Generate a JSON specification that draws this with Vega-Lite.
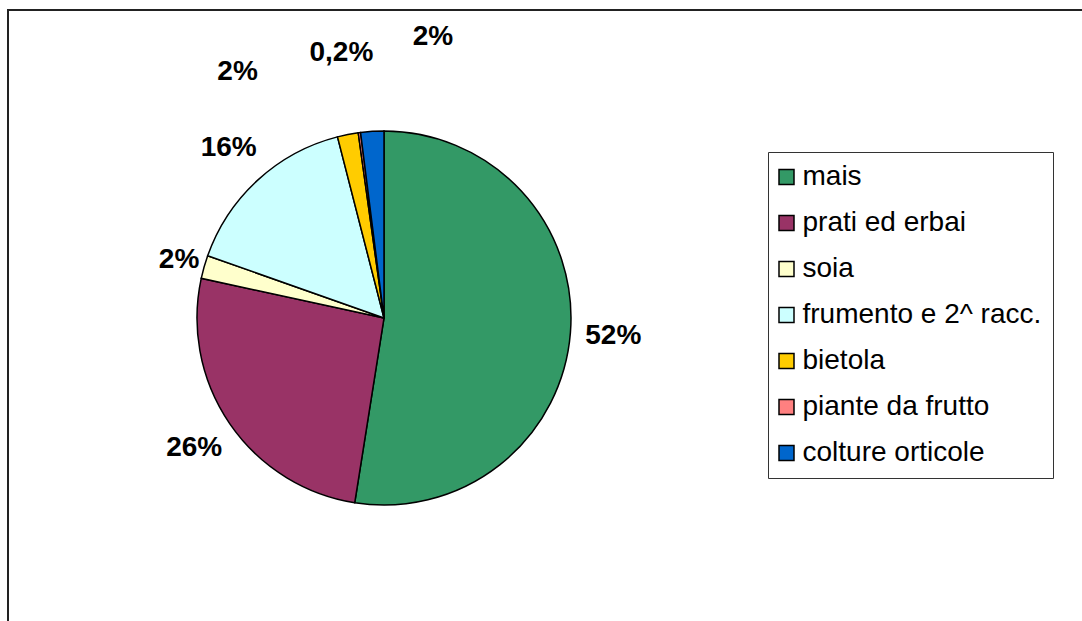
{
  "$schema": "https://vega.github.io/schema/vega-lite/v6.json",
  "autosize": "none",
  "width": 1080,
  "height": 620,
  "padding": {"left": 8, "top": 10, "right": -6, "bottom": -9},
  "background": "white",
  "view": {"stroke": "#222222", "strokeWidth": 2, "fill": "white"},
  "config": {
    "view": {"stroke": "#222222", "strokeWidth": 2},
    "font": "Liberation Sans"
  },
  "data": {
    "values": [
      {"cat": "mais", "idx": 1, "value": 52.5, "label": "52%"},
      {"cat": "prati ed erbai", "idx": 2, "value": 25.9, "label": "26%"},
      {"cat": "soia", "idx": 3, "value": 2.0, "label": "2%"},
      {"cat": "frumento e 2^ racc.", "idx": 4, "value": 15.6, "label": "16%"},
      {"cat": "bietola", "idx": 5, "value": 1.8, "label": "2%"},
      {"cat": "piante da frutto", "idx": 6, "value": 0.2, "label": "0,2%"},
      {"cat": "colture orticole", "idx": 7, "value": 2.0, "label": "2%"}
    ]
  },
  "encoding": {
    "theta": {"field": "value", "type": "quantitative", "stack": true},
    "order": {"field": "idx", "type": "quantitative"}
  },
  "layer": [
    {
      "mark": {"type": "arc", "x": 376, "y": 308, "outerRadius": 187, "stroke": "black", "strokeWidth": 1.5},
      "encoding": {
        "color": {
          "field": "cat",
          "type": "nominal",
          "scale": {
            "domain": ["mais", "prati ed erbai", "soia", "frumento e 2^ racc.", "bietola", "piante da frutto", "colture orticole"],
            "range": ["#339966", "#993366", "#FFFFCC", "#CCFFFF", "#FFCC00", "#FF8080", "#0066CC"]
          },
          "legend": {
            "orient": "none",
            "legendX": 760,
            "legendY": 142,
            "title": null,
            "strokeColor": "#333333",
            "fillColor": "white",
            "padding": 11,
            "rowPadding": 18,
            "symbolType": "square",
            "symbolSize": 225,
            "symbolStrokeColor": "black",
            "symbolStrokeWidth": 1.5,
            "symbolOpacity": 1,
            "symbolOffset": -6.5,
            "labelFontSize": 28,
            "labelFont": "Liberation Sans",
            "labelColor": "black",
            "labelOffset": 2,
            "labelLimit": 400
          }
        }
      }
    },
    {
      "mark": {"type": "text", "x": 376, "y": 308, "radius": 230, "fontSize": 28, "fontWeight": "bold", "font": "Liberation Sans", "color": "black"},
      "encoding": {
        "text": {"condition": {"test": "datum.idx == 1 || datum.idx == 2 || datum.idx == 4", "field": "label"}, "value": ""}
      }
    },
    {
      "mark": {"type": "text", "x": 376, "y": 308, "radius": 213, "fontSize": 28, "fontWeight": "bold", "font": "Liberation Sans", "color": "black"},
      "encoding": {
        "text": {"condition": {"test": "datum.idx == 3", "field": "label"}, "value": ""}
      }
    },
    {
      "mark": {"type": "text", "x": 376, "y": 308, "radius": 240, "dx": -100, "dy": -11, "fontSize": 28, "fontWeight": "bold", "font": "Liberation Sans", "color": "black"},
      "encoding": {
        "text": {"condition": {"test": "datum.idx == 5", "field": "label"}, "value": ""}
      }
    },
    {
      "mark": {"type": "text", "x": 376, "y": 308, "radius": 240, "dx": -11, "dy": -27, "fontSize": 28, "fontWeight": "bold", "font": "Liberation Sans", "color": "black"},
      "encoding": {
        "text": {"condition": {"test": "datum.idx == 6", "field": "label"}, "value": ""}
      }
    },
    {
      "mark": {"type": "text", "x": 376, "y": 308, "radius": 240, "dx": 64, "dy": -41, "fontSize": 28, "fontWeight": "bold", "font": "Liberation Sans", "color": "black"},
      "encoding": {
        "text": {"condition": {"test": "datum.idx == 7", "field": "label"}, "value": ""}
      }
    }
  ]
}
